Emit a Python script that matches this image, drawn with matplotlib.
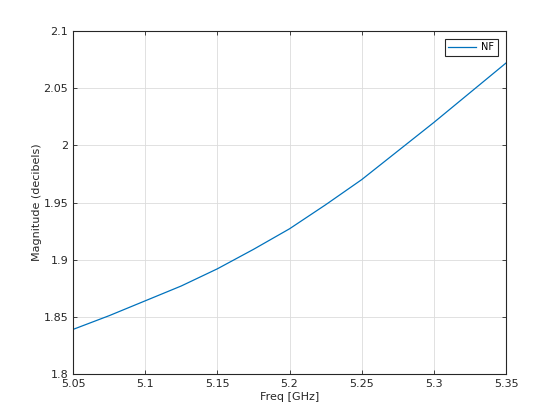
import matplotlib
matplotlib.use("Agg")
import matplotlib.pyplot as plt

# NF vs frequency
freq_GHz = [5.05, 5.075, 5.10, 5.125, 5.15, 5.175, 5.20, 5.225, 5.25, 5.275, 5.30, 5.325, 5.35]
nf_dB = [1.839, 1.851, 1.864, 1.877, 1.892, 1.909, 1.927, 1.948, 1.970, 1.995, 2.020, 2.046, 2.072]

xticks = [5.05, 5.1, 5.15, 5.2, 5.25, 5.3, 5.35]
xticklabels = ["5.05", "5.1", "5.15", "5.2", "5.25", "5.3", "5.35"]
yticks = [1.8, 1.85, 1.9, 1.95, 2.0, 2.05, 2.1]
yticklabels = ["1.8", "1.85", "1.9", "1.95", "2", "2.05", "2.1"]

plt.rcParams["font.family"] = ["DejaVu Sans"]
fig = plt.figure(figsize=(5.6, 4.2), dpi=100)
ax = fig.add_axes([0.1304, 0.1095, 0.7732, 0.8167])

ax.plot(freq_GHz, nf_dB, color="#0072BD", lw=0.9, label="NF")

ax.set_xlim(5.05, 5.35); ax.set_ylim(1.8, 2.1)
ax.set_xticks(xticks); ax.set_xticklabels(xticklabels)
ax.set_yticks(yticks); ax.set_yticklabels(yticklabels)
ax.tick_params(direction="in", length=3, width=0.6, colors="#262626", labelsize=8,
               top=True, right=True, labeltop=False, labelright=False)
for s in ax.spines.values():
    s.set_color("#262626"); s.set_linewidth(0.8)
ax.grid(True, color="#dcdcdc", lw=0.6)
ax.set_axisbelow(True)

ax.set_xlabel("Freq [GHz]", fontsize=8, color="#262626", labelpad=2)
ax.set_ylabel("Magnitude (decibels)", fontsize=8, color="#262626", labelpad=1)

leg = ax.legend(loc="upper right", fontsize=7, fancybox=False, framealpha=1,
                edgecolor="#262626", borderpad=0.35, handlelength=2.8,
                handletextpad=0.6, borderaxespad=0,
                bbox_to_anchor=(0.981, 0.977))
leg.get_frame().set_linewidth(0.8)

fig.savefig("out.png", dpi=100)
